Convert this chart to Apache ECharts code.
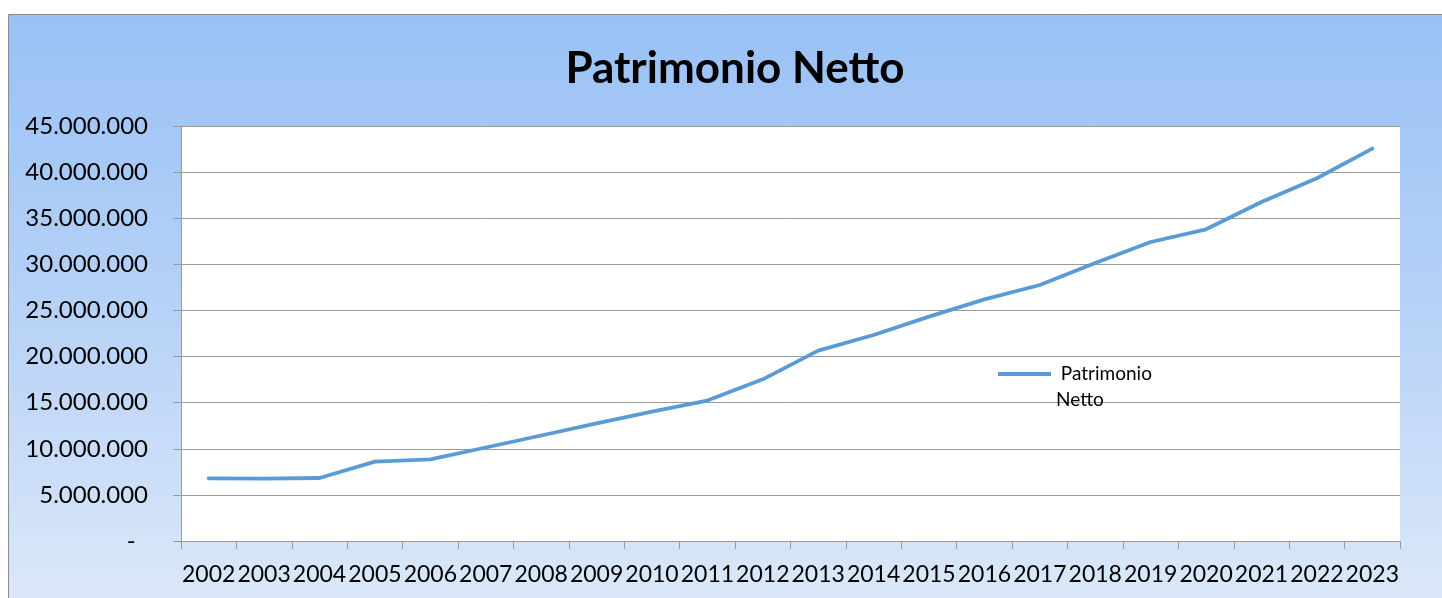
<!DOCTYPE html>
<html>
<head>
<meta charset="utf-8">
<script src="https://cdn.jsdelivr.net/npm/echarts@6/dist/echarts.min.js"></script>
<style>
html,body{margin:0;padding:0;background:#fff;}
#chart{width:1442px;height:598px;}
</style>
</head>
<body>
<div id="chart"></div>
<script>
var years = ['2002','2003','2004','2005','2006','2007','2008','2009','2010','2011','2012','2013','2014','2015','2016','2017','2018','2019','2020','2021','2022','2023'];
var patrimonioNetto = [6800000, 6760000, 6830000, 8600000, 8860000, 10140000, 11440000, 12760000, 14020000, 15230000, 17530000, 20640000, 22340000, 24330000, 26200000, 27760000, 30150000, 32420000, 33800000, 36760000, 39330000, 42550000];
var seriesName = 'Patrimonio Netto';
var titleText = 'Patrimonio Netto';

function fmt(v){
  if (v === 0) return '-  ';
  return String(Math.round(v)).replace(/\B(?=(\d{3})+(?!\d))/g, '.');
}

var chart = echarts.init(document.getElementById('chart'), null, {renderer:'canvas'});
chart.setOption({
  animation: false,
  graphic: [{
    type: 'rect',
    z: -10,
    silent: true,
    shape: {x: 8.5, y: 14.5, width: 1450, height: 600},
    style: {
      fill: new echarts.graphic.LinearGradient(0, 0, 0, 1, [
        {offset: 0, color: '#99c1f5'},
        {offset: 0.5, color: '#b7d2f7'},
        {offset: 1, color: '#dde9f9'}
      ]),
      stroke: '#8c8c8c',
      lineWidth: 1
    }
  }],
  title: {
    text: titleText,
    left: 730,
    top: 38,
    textAlign: 'center',
    textStyle: {fontFamily: 'Lato', fontWeight: 'bold', fontSize: 44, color: '#000', lineHeight: 52}
  },
  legend: {
    left: 998,
    top: 335,
    padding: 0,
    itemWidth: 53,
    itemHeight: 4,
    icon: 'rect',
    data: [seriesName],
    formatter: function(){ return '\n Patrimonio\nNetto'; },
    textStyle: {fontFamily: 'Lato', fontSize: 19, color: '#000', lineHeight: 26}
  },
  grid: {
    left: 181, right: 42, top: 126, bottom: 57,
    show: true, backgroundColor: '#ffffff', borderWidth: 0
  },
  xAxis: {
    type: 'category',
    data: years,
    boundaryGap: true,
    axisLine: {show: true, lineStyle: {color: '#9a9a9a', width: 1}},
    axisTick: {show: true, length: 8, inside: false, lineStyle: {color: '#9a9a9a'}},
    axisLabel: {interval: 0, margin: 22, fontFamily: 'Lato', fontSize: 23, color: '#000'},
    splitLine: {show: false}
  },
  yAxis: {
    type: 'value',
    min: 0, max: 45000000, interval: 5000000,
    axisLine: {show: true, lineStyle: {color: '#9a9a9a', width: 1}},
    axisTick: {show: true, length: 8, inside: false, lineStyle: {color: '#9a9a9a'}},
    axisLabel: {margin: 33, fontFamily: 'Lato', fontSize: 24, color: '#000', formatter: fmt},
    splitLine: {show: true, lineStyle: {color: '#9a9a9a', width: 1}}
  },
  series: [{
    name: seriesName,
    type: 'line',
    data: patrimonioNetto,
    symbol: 'none',
    lineStyle: {color: '#5b9bd5', width: 3.8, cap: 'round', join: 'round'},
    itemStyle: {color: '#5b9bd5'}
  }]
});
</script>
</body>
</html>
